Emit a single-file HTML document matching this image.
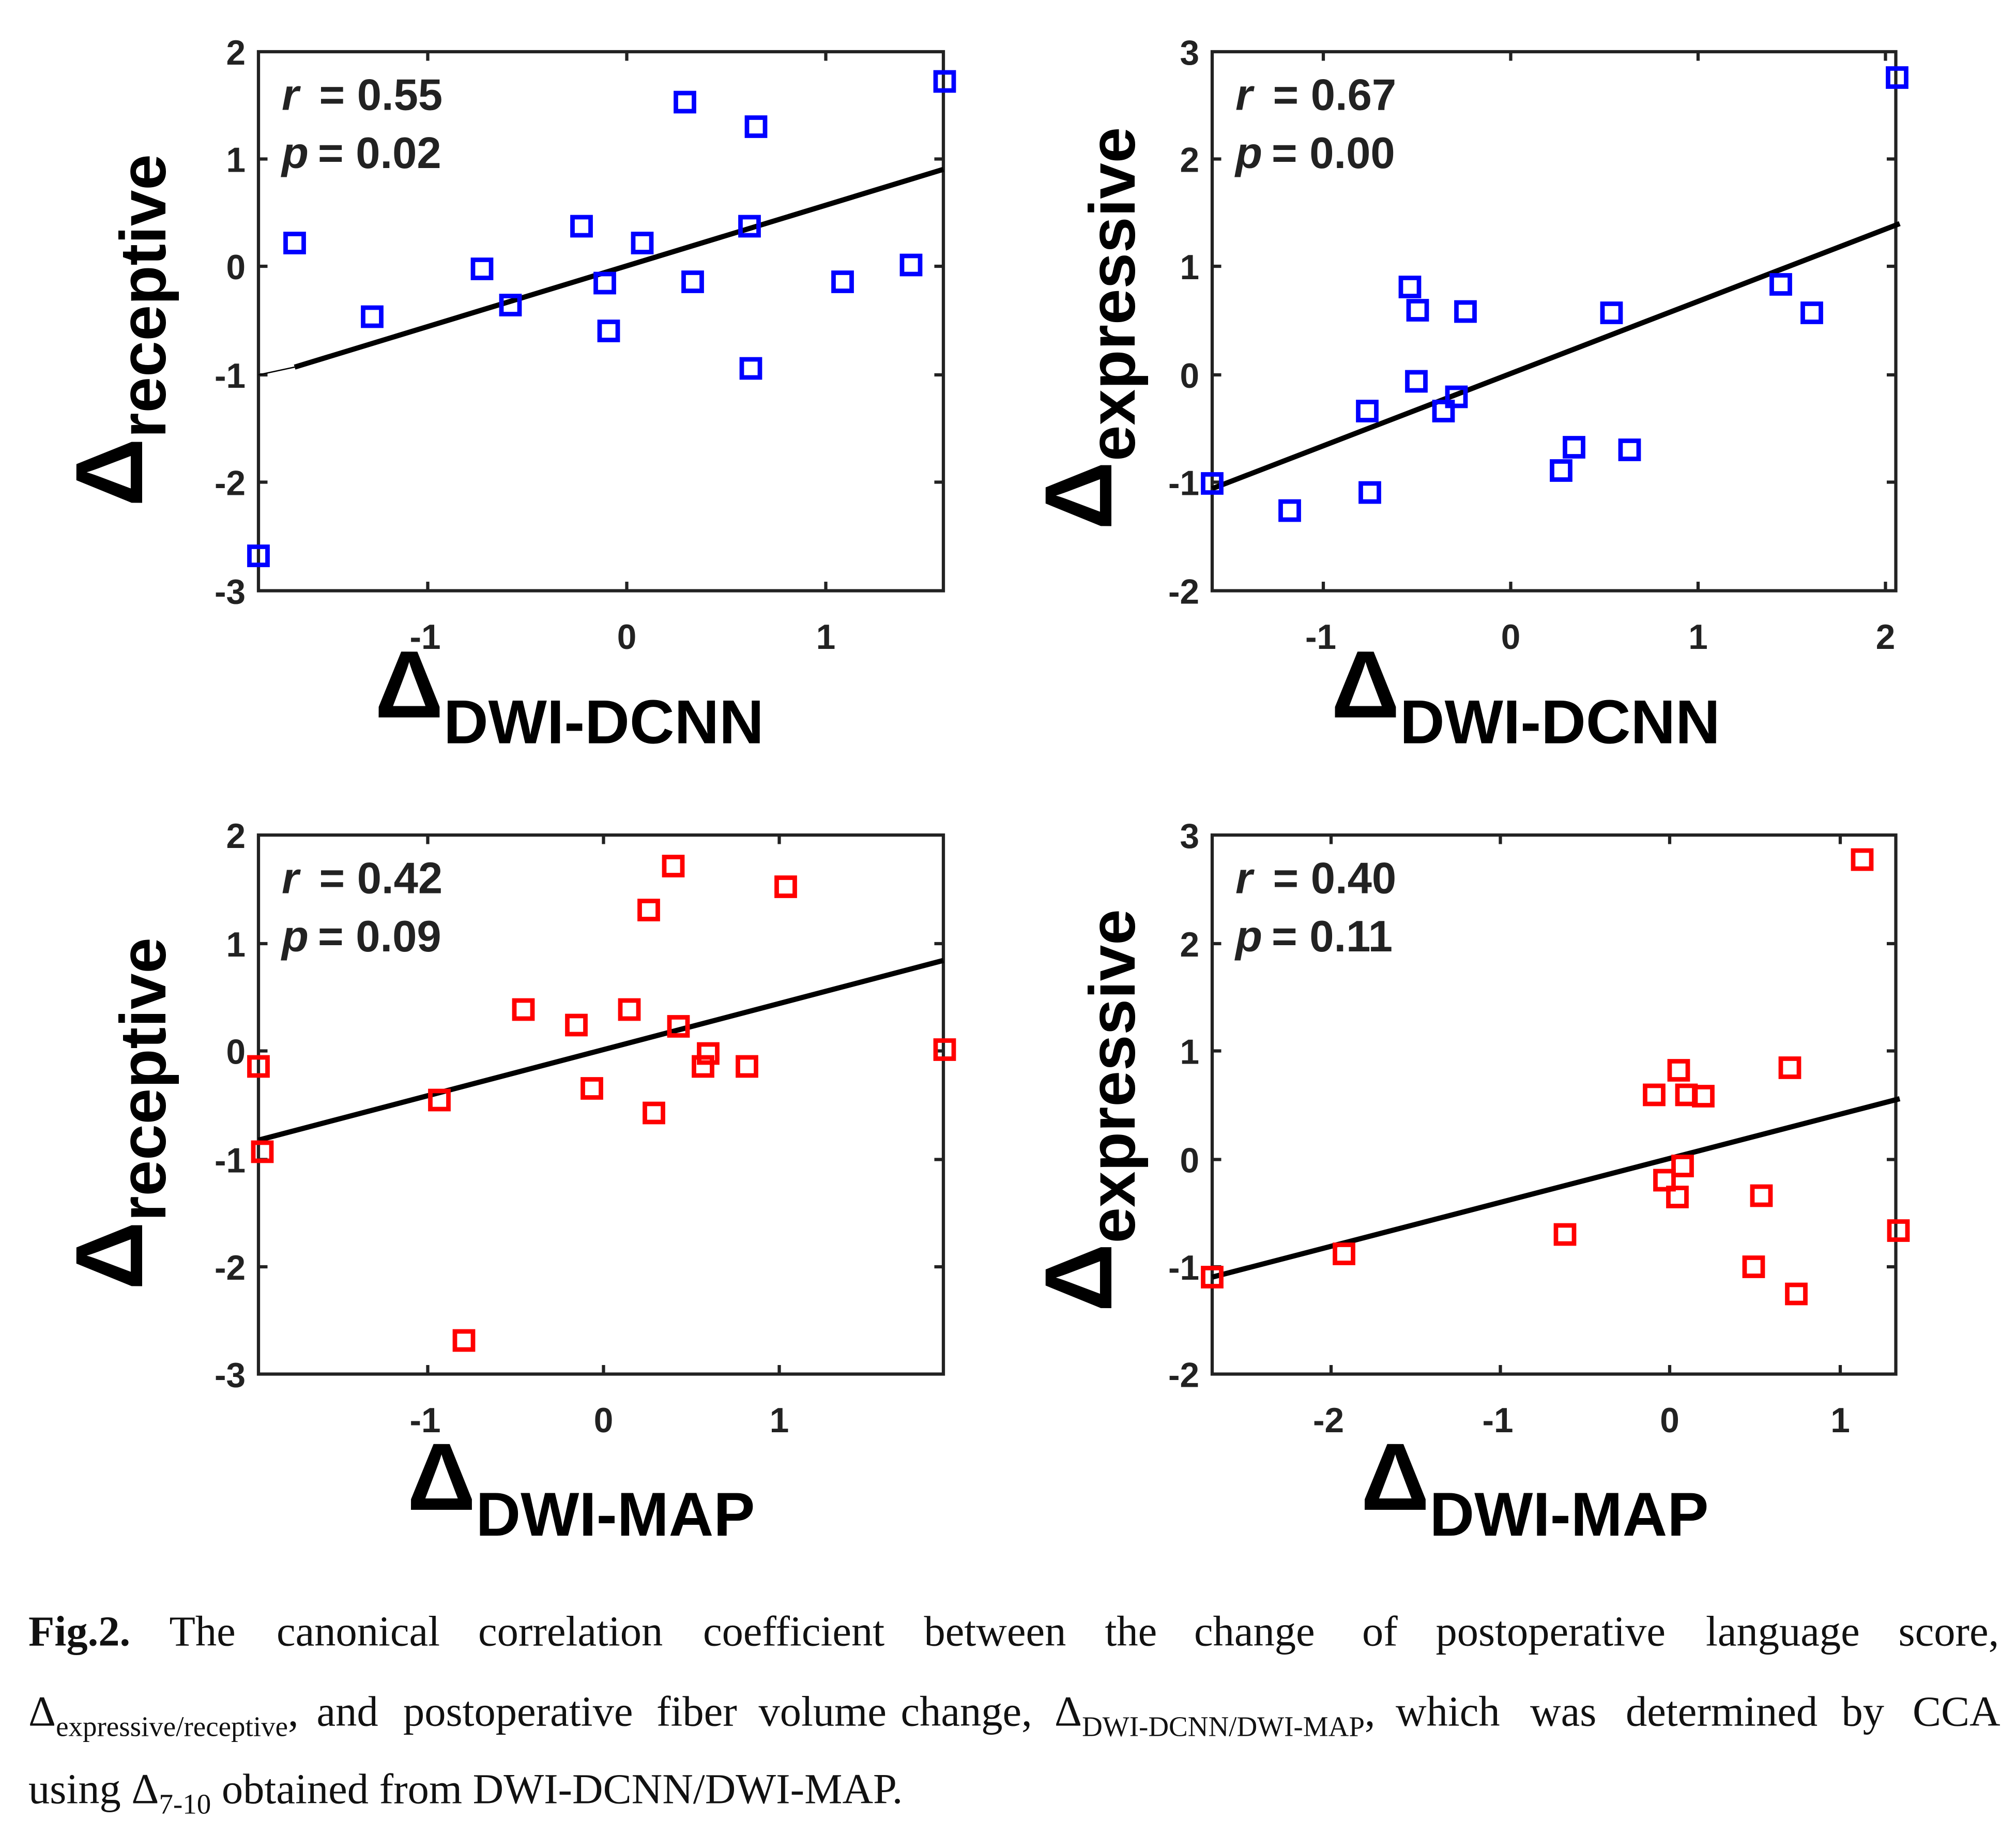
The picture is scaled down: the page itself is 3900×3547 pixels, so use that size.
<!DOCTYPE html>
<html><head><meta charset="utf-8"><style>
html,body{margin:0;padding:0;background:#fff}
svg{display:block}
.t{font-family:"Liberation Sans Narrow","Liberation Sans",sans-serif;font-weight:bold;fill:#222}
.big{font-family:"Liberation Sans",sans-serif;font-weight:bold;fill:#000}
.cap{font-family:"Liberation Serif",serif;fill:#111;font-size:33px}
</style></head><body>
<svg width="3900" height="3547" viewBox="0 0 1560 1418.8" xmlns="http://www.w3.org/2000/svg">
<defs>
<g id="bsq"><rect x="-7" y="-7" width="14" height="14" fill="none" stroke="#0000ff" stroke-width="3.5"/></g>
<g id="rsq"><rect x="-7" y="-7" width="14" height="14" fill="none" stroke="#ff0000" stroke-width="3.5"/></g>
</defs>

<!-- ===== Panel TL ===== -->
<g stroke="#222" stroke-width="2.5" fill="none">
<rect x="200" y="40" width="530" height="417"/>
<path d="M200 123h7M200 206h7M200 290h7M200 373h7M730 123h-7M730 206h-7M730 290h-7M730 373h-7M331 457v-7M485 457v-7M639 457v-7M331 40v7M485 40v7M639 40v7"/>
</g>
<g class="t" font-size="27" text-anchor="end">
<text x="190" y="50">2</text><text x="190" y="133">1</text><text x="190" y="216">0</text><text x="190" y="300">-1</text><text x="190" y="383">-2</text><text x="190" y="467">-3</text>
</g>
<g class="t" font-size="27" text-anchor="middle">
<text x="329" y="502">-1</text><text x="485" y="502">0</text><text x="639" y="502">1</text>
</g>
<path d="M200 290L228 284" stroke="#000" stroke-width="1"/>
<path d="M228 284L730 131" stroke="#000" stroke-width="4"/>
<g>
<use href="#bsq" x="200" y="430"/><use href="#bsq" x="228" y="188"/><use href="#bsq" x="288" y="245"/><use href="#bsq" x="373" y="208"/><use href="#bsq" x="395" y="236"/><use href="#bsq" x="450" y="175"/><use href="#bsq" x="468" y="219"/><use href="#bsq" x="471" y="256"/><use href="#bsq" x="497" y="188"/><use href="#bsq" x="530" y="79"/><use href="#bsq" x="536" y="218"/><use href="#bsq" x="580" y="175"/><use href="#bsq" x="585" y="98"/><use href="#bsq" x="581" y="285"/><use href="#bsq" x="652" y="218"/><use href="#bsq" x="705" y="205"/><use href="#bsq" x="731" y="63"/>
</g>
<text class="t" x="218" y="85" font-size="34" fill="#000"><tspan font-style="italic">r</tspan><tspan x="247">= 0.55</tspan></text>
<text class="t" x="218" y="130" font-size="34" fill="#000"><tspan font-style="italic">p</tspan><tspan x="246">= 0.02</tspan></text>
<text class="big" transform="translate(110,392) rotate(-90)"><tspan font-size="74">Δ</tspan><tspan font-size="50" dy="18">receptive</tspan></text>
<text class="big" x="290" y="555"><tspan font-size="74">Δ</tspan><tspan font-size="48" dy="20">DWI-DCNN</tspan></text>

<!-- ===== Panel TR ===== -->
<g stroke="#222" stroke-width="2.5" fill="none">
<rect x="938" y="40" width="529" height="417"/>
<path d="M938 123h7M938 206h7M938 290h7M938 373h7M1467 123h-7M1467 206h-7M1467 290h-7M1467 373h-7M1024 457v-7M1169 457v-7M1314 457v-7M1459 457v-7M1024 40v7M1169 40v7M1314 40v7M1459 40v7"/>
</g>
<g class="t" font-size="27" text-anchor="end">
<text x="928" y="50">3</text><text x="928" y="133">2</text><text x="928" y="216">1</text><text x="928" y="300">0</text><text x="928" y="383">-1</text><text x="928" y="467">-2</text>
</g>
<g class="t" font-size="27" text-anchor="middle">
<text x="1022" y="502">-1</text><text x="1169" y="502">0</text><text x="1314" y="502">1</text><text x="1459" y="502">2</text>
</g>
<path d="M938 378L1470 173" stroke="#000" stroke-width="4"/>
<g>
<use href="#bsq" x="938" y="374"/><use href="#bsq" x="998" y="395"/><use href="#bsq" x="1058" y="318"/><use href="#bsq" x="1060" y="381"/><use href="#bsq" x="1091" y="222"/><use href="#bsq" x="1097" y="240"/><use href="#bsq" x="1096" y="295"/><use href="#bsq" x="1117" y="318"/><use href="#bsq" x="1127" y="307"/><use href="#bsq" x="1134" y="241"/><use href="#bsq" x="1208" y="364"/><use href="#bsq" x="1218" y="346"/><use href="#bsq" x="1247" y="242"/><use href="#bsq" x="1261" y="348"/><use href="#bsq" x="1378" y="220"/><use href="#bsq" x="1402" y="242"/><use href="#bsq" x="1468" y="60"/>
</g>
<text class="t" x="956" y="85" font-size="34" fill="#000"><tspan font-style="italic">r</tspan><tspan x="985">= 0.67</tspan></text>
<text class="t" x="956" y="130" font-size="34" fill="#000"><tspan font-style="italic">p</tspan><tspan x="984">= 0.00</tspan></text>
<text class="big" transform="translate(860,410) rotate(-90)"><tspan font-size="74">Δ</tspan><tspan font-size="50" dy="18">expressive</tspan></text>
<text class="big" x="1030" y="555"><tspan font-size="74">Δ</tspan><tspan font-size="48" dy="20">DWI-DCNN</tspan></text>

<!-- ===== Panel BL ===== -->
<g stroke="#222" stroke-width="2.5" fill="none">
<rect x="200" y="646" width="530" height="417"/>
<path d="M200 730h7M200 813h7M200 897h7M200 980h7M730 730h-7M730 813h-7M730 897h-7M730 980h-7M331 1063v-7M467 1063v-7M603 1063v-7M331 646v7M467 646v7M603 646v7"/>
</g>
<g class="t" font-size="27" text-anchor="end">
<text x="190" y="656">2</text><text x="190" y="740">1</text><text x="190" y="823">0</text><text x="190" y="907">-1</text><text x="190" y="990">-2</text><text x="190" y="1073">-3</text>
</g>
<g class="t" font-size="27" text-anchor="middle">
<text x="329" y="1108">-1</text><text x="467" y="1108">0</text><text x="603" y="1108">1</text>
</g>
<path d="M200 882L730 743" stroke="#000" stroke-width="4"/>
<g>
<use href="#rsq" x="200" y="825"/><use href="#rsq" x="203" y="891"/><use href="#rsq" x="340" y="851"/><use href="#rsq" x="405" y="781"/><use href="#rsq" x="446" y="793"/><use href="#rsq" x="458" y="842"/><use href="#rsq" x="487" y="781"/><use href="#rsq" x="502" y="704"/><use href="#rsq" x="506" y="861"/><use href="#rsq" x="521" y="670"/><use href="#rsq" x="525" y="794"/><use href="#rsq" x="544" y="825"/><use href="#rsq" x="548" y="815"/><use href="#rsq" x="578" y="825"/><use href="#rsq" x="608" y="686"/><use href="#rsq" x="731" y="812"/><use href="#rsq" x="359" y="1037"/>
</g>
<text class="t" x="218" y="691" font-size="34" fill="#000"><tspan font-style="italic">r</tspan><tspan x="247">= 0.42</tspan></text>
<text class="t" x="218" y="736" font-size="34" fill="#000"><tspan font-style="italic">p</tspan><tspan x="246">= 0.09</tspan></text>
<text class="big" transform="translate(110,998) rotate(-90)"><tspan font-size="74">Δ</tspan><tspan font-size="50" dy="18">receptive</tspan></text>
<text class="big" x="315" y="1168"><tspan font-size="74">Δ</tspan><tspan font-size="48" dy="20">DWI-MAP</tspan></text>

<!-- ===== Panel BR ===== -->
<g stroke="#222" stroke-width="2.5" fill="none">
<rect x="938" y="646" width="529" height="417"/>
<path d="M938 730h7M938 813h7M938 897h7M938 980h7M1467 730h-7M1467 813h-7M1467 897h-7M1467 980h-7M1030 1063v-7M1161 1063v-7M1292 1063v-7M1424 1063v-7M1030 646v7M1161 646v7M1292 646v7M1424 646v7"/>
</g>
<g class="t" font-size="27" text-anchor="end">
<text x="928" y="656">3</text><text x="928" y="740">2</text><text x="928" y="823">1</text><text x="928" y="907">0</text><text x="928" y="990">-1</text><text x="928" y="1073">-2</text>
</g>
<g class="t" font-size="27" text-anchor="middle">
<text x="1028" y="1108">-2</text><text x="1159" y="1108">-1</text><text x="1292" y="1108">0</text><text x="1424" y="1108">1</text>
</g>
<path d="M938 988L1470 850" stroke="#000" stroke-width="4"/>
<g>
<use href="#rsq" x="938" y="988"/><use href="#rsq" x="1040" y="970"/><use href="#rsq" x="1211" y="955"/><use href="#rsq" x="1280" y="847"/><use href="#rsq" x="1288" y="913"/><use href="#rsq" x="1298" y="926"/><use href="#rsq" x="1299" y="828"/><use href="#rsq" x="1302" y="902"/><use href="#rsq" x="1305" y="847"/><use href="#rsq" x="1318" y="848"/><use href="#rsq" x="1363" y="925"/><use href="#rsq" x="1357" y="980"/><use href="#rsq" x="1385" y="826"/><use href="#rsq" x="1390" y="1001"/><use href="#rsq" x="1441" y="665"/><use href="#rsq" x="1469" y="952"/>
</g>
<text class="t" x="956" y="691" font-size="34" fill="#000"><tspan font-style="italic">r</tspan><tspan x="985">= 0.40</tspan></text>
<text class="t" x="956" y="736" font-size="34" fill="#000"><tspan font-style="italic">p</tspan><tspan x="984">= 0.11</tspan></text>
<text class="big" transform="translate(860,1015) rotate(-90)"><tspan font-size="74">Δ</tspan><tspan font-size="50" dy="18">expressive</tspan></text>
<text class="big" x="1053" y="1168"><tspan font-size="74">Δ</tspan><tspan font-size="48" dy="20">DWI-MAP</tspan></text>

<!-- ===== Caption ===== -->
<g class="cap">
<text y="1273"><tspan x="22" font-weight="bold">Fig.2.</tspan><tspan x="131">The</tspan><tspan x="214">canonical</tspan><tspan x="370">correlation</tspan><tspan x="544">coefficient</tspan><tspan x="715">between</tspan><tspan x="855">the</tspan><tspan x="924">change</tspan><tspan x="1054">of</tspan><tspan x="1111">postoperative</tspan><tspan x="1320">language</tspan><tspan x="1469">score,</tspan></text>
<text y="1335"><tspan x="22">Δ</tspan><tspan font-size="22" dy="8">expressive/receptive</tspan><tspan dy="-8">,</tspan><tspan x="245">and</tspan><tspan x="312">postoperative</tspan><tspan x="508">fiber</tspan><tspan x="587">volume</tspan><tspan x="697">change,</tspan><tspan x="816">Δ</tspan><tspan font-size="22" dy="8">DWI-DCNN/DWI-MAP</tspan><tspan dy="-8">,</tspan><tspan x="1080">which</tspan><tspan x="1184">was</tspan><tspan x="1258">determined</tspan><tspan x="1425">by</tspan><tspan x="1480">CCA</tspan></text>
<text x="22" y="1395">using Δ<tspan font-size="22" dy="8">7-10</tspan><tspan dy="-8"> obtained from DWI-DCNN/DWI-MAP.</tspan></text>
</g>
</svg>
</body></html>
